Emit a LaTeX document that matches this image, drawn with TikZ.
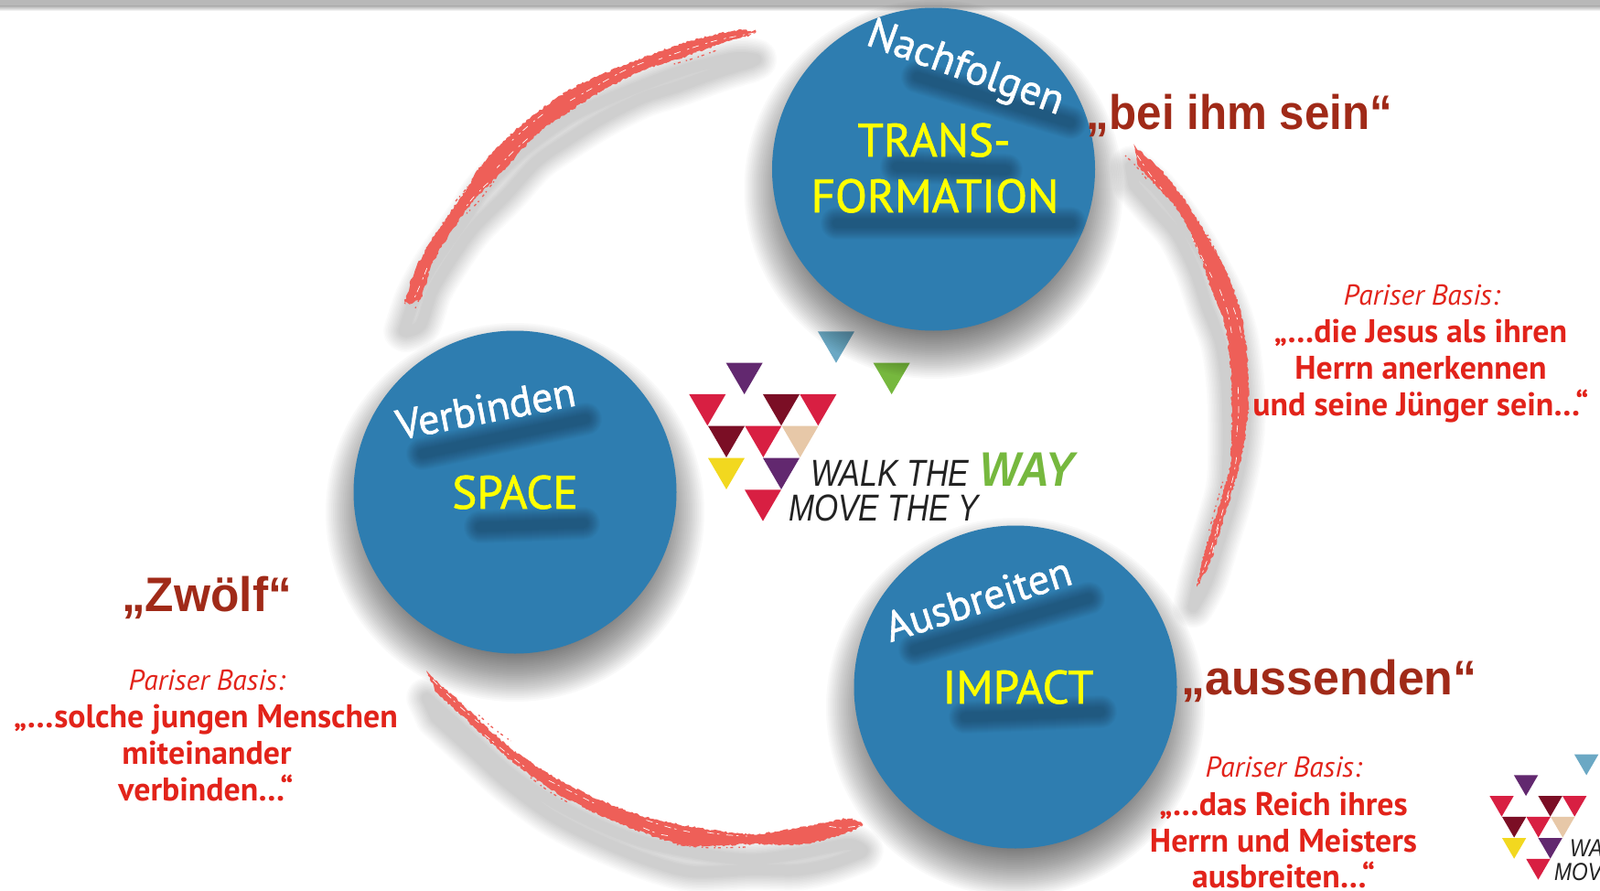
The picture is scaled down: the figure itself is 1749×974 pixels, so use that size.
\documentclass[tikz,border=0pt]{standalone}
\usepackage{fontspec}
\usepackage{graphicx}
\usetikzlibrary{decorations.pathmorphing}
\setmainfont{PT Sans}
\newfontfamily\arialfont{Liberation Sans}
\newfontfamily\semifont[FakeBold=1.3]{PT Sans}
\definecolor{discblue}{HTML}{2E7DB0}
\definecolor{brush}{HTML}{EE5F58}
\definecolor{darkred}{HTML}{A02A18}
\definecolor{textred}{HTML}{E2231A}
\definecolor{wyellow}{HTML}{FFFF00}
\definecolor{lblue}{HTML}{6BA8C4}
\definecolor{lpurple}{HTML}{62286F}
\definecolor{lgreen}{HTML}{76B83E}
\definecolor{lred}{HTML}{D81F42}
\definecolor{ldark}{HTML}{7B0E25}
\definecolor{lbeige}{HTML}{E7C8A8}
\definecolor{lyellow}{HTML}{F2D81F}
\definecolor{ltext}{HTML}{222222}
\newcommand{\sx}[2]{\scalebox{#1}[1]{#2}}
\newcommand{\ltri}[3]{\fill[#3] (#1,#2) -- ++(120,0) -- ++(-60,103) -- cycle;}
\newcommand{\discshadow}[2]{\foreach \rr in {147,149,...,207}{\fill[black,opacity=.024] (#1,#2+22) circle[radius=\rr];}}
\newcommand{\softline}[2]{\foreach \ww in {10,12,...,36}{\draw[black,opacity=.018,line width=\ww pt,line cap=round] #1 -- #2;}}
\newcommand{\softshape}[1]{\foreach \ww in {12,15,...,45}{\draw[black,opacity=.015,line width=\ww pt,line join=round] #1;}}
\def\brushA{plot[smooth] coordinates {(1220,75)(1150,70)(1000,105)(860,155)(700,220)(600,270)(480,355)(400,425)(320,510)(270,590)(200,690)(150,765)(100,860)(65,965)} -- plot[smooth] coordinates {(70,968)(120,945)(160,830)(240,700)(300,620)(400,520)(500,410)(600,340)(720,265)(850,200)(960,165)(1100,115)(1200,85)} -- cycle}
\def\brushB{plot[smooth] coordinates {(120,60)(200,130)(280,230)(350,340)(430,490)(470,610)(490,750)(495,900)(480,1030)(450,1160)(410,1290)(370,1420)(325,1505)} -- plot[smooth] coordinates {(340,1430)(365,1340)(410,1200)(435,1100)(440,950)(435,780)(415,640)(370,520)(330,400)(270,280)(200,200)(130,120)} -- cycle}
\def\brushC{plot[smooth] coordinates {(80,75)(180,165)(350,320)(500,420)(650,495)(800,550)(1000,590)(1150,605)(1300,585)(1460,555)(1510,575)} -- plot[smooth] coordinates {(1505,582)(1400,620)(1290,640)(1150,638)(950,645)(800,605)(620,530)(480,455)(340,350)(220,240)(110,140)} -- cycle}
\tikzset{
  zoomA/.style={shift={(420,10)},x=.3333pt,y=-.3333pt},
  zoomB/.style={shift={(1200,140)},x=.3333pt,y=-.3333pt},
  zoomC/.style={shift={(440,710)},x=.3333pt,y=-.3333pt},
  disc/.style={circle,fill=discblue,minimum size=353pt,inner sep=0pt},
  txt/.style={inner sep=0pt,anchor=base},
  verb/.style={txt,text=white,font=\semifont\fontsize{46}{52}\selectfont},
  core/.style={txt,text=wyellow,font=\semifont\fontsize{51}{58}\selectfont},
  saying/.style={txt,text=darkred,font=\arialfont\bfseries\fontsize{53}{60}\selectfont},
  basis/.style={txt,text=textred,font=\itshape\fontsize{31.5}{38}\selectfont},
  quoted/.style={txt,text=textred,font=\bfseries\fontsize{35.8}{40}\selectfont},
  rough/.style={decorate,decoration={random steps,segment length=2.2pt,amplitude=1.1pt}},
  gap/.style={white,line width=.7pt,line cap=round,dash pattern=on 7pt off 4pt on 2pt off 8pt},
  fleck/.style={brush,line width=1.3pt,dash pattern=on 1.5pt off 3pt on 3pt off 6pt},
  logoW/.style={txt,text=ltext,font=\arialfont\itshape\fontsize{41}{46}\selectfont},
  logoY/.style={txt,text=lgreen,font=\arialfont\bfseries\itshape\fontsize{53}{60}\selectfont},
  logoS/.style={txt,text=ltext,font=\arialfont\itshape\fontsize{27}{30}\selectfont},
}
\begin{document}
\begin{tikzpicture}[x=1pt,y=-1pt]
\useasboundingbox (0,0) rectangle (1749,974);
\fill[white] (0,0) rectangle (1749,974);
% top bar
\fill[black!28] (0,0) rectangle (1749,7);
\shade[top color=black!28,bottom color=white] (0,7) rectangle (1749,12);

% logo triangles
\begin{scope}[shift={(720,340)},x=.3333pt,y=-.3333pt]
\ltri{522}{67}{lblue}
\ltri{221}{170}{lpurple}
\ltri{704}{170}{lgreen}
\ltri{100}{273}{lred}
\ltri{342}{273}{ldark}
\ltri{463}{273}{lred}
\ltri{162}{377}{ldark}
\ltri{283}{377}{lred}
\ltri{404}{377}{lbeige}
\ltri{162}{482}{lyellow}
\ltri{342}{482}{lpurple}
\ltri{282}{586}{lred}
\end{scope}
\begin{scope}[shift={(1606.4,810)},x=.2195pt,y=-.22pt]
\ltri{522}{67}{lblue}
\ltri{221}{170}{lpurple}
\ltri{100}{273}{lred}
\ltri{342}{273}{ldark}
\ltri{463}{273}{lred}
\ltri{162}{377}{ldark}
\ltri{283}{377}{lred}
\ltri{404}{377}{lbeige}
\ltri{162}{482}{lyellow}
\ltri{342}{482}{lpurple}
\ltri{282}{586}{lred}
\end{scope}
\node[logoW,anchor=base west] (walk) at (886,531) {\sx{.83}{WALK THE}};
\node[logoW,anchor=base west] (move) at (862,569) {\sx{.82}{MOVE THE Y}};
\node[logoY,anchor=base west] (way) at (1071,531) {\sx{.89}{WAY}};
\node[logoS,anchor=base west] (walks) at (1716,936) {\sx{.84}{WA}};
\begin{scope}
\clip (0,0) rectangle (1749,974);
\node[logoS,anchor=base west] (moves) at (1699,962) {\sx{.84}{MOV}};
\end{scope}

% drop shadows
\discshadow{1020.5}{185}
\discshadow{563}{538}
\discshadow{1110}{751}
\begin{scope}[zoomA,yshift=-30pt]\softshape{\brushA}\end{scope}
\begin{scope}[zoomB,yshift=-22pt,xshift=-4pt]\softshape{\brushB}\end{scope}
\begin{scope}[zoomC,yshift=-28pt]\softshape{\brushC}\end{scope}

% brush strokes
\begin{scope}[zoomA]
\fill[brush,rough] \brushA;
\draw[gap] plot[smooth] coordinates {(1215,78)(1100,100)(1000,130)(900,165)};
\draw[gap] plot[smooth] coordinates {(850,175)(780,205)(690,255)(610,300)};
\draw[gap] plot[smooth] coordinates {(520,345)(470,385)(420,430)};
\draw[gap] plot[smooth] coordinates {(470,425)(420,470)(370,520)};
\draw[gap] plot[smooth] coordinates {(340,570)(290,620)(260,660)};
\draw[gap] plot[smooth] coordinates {(140,850)(120,900)(100,945)};
\draw[fleck] plot[smooth] coordinates {(300,550)(260,600)(225,640)};
\draw[fleck] plot[smooth] coordinates {(360,565)(310,630)(270,670)};
\draw[fleck] plot[smooth] coordinates {(950,180)(1020,160)(1090,135)};
\draw[fleck] plot[smooth] coordinates {(130,900)(115,950)(100,985)};
\end{scope}
\begin{scope}[zoomB]
\fill[brush,rough] \brushB;
\draw[gap] plot[smooth] coordinates {(130,90)(170,150)(210,200)};
\draw[gap] plot[smooth] coordinates {(310,360)(350,440)(375,490)};
\draw[gap] plot[smooth] coordinates {(400,530)(425,600)(440,680)};
\draw[gap] plot[smooth] coordinates {(445,590)(465,650)(475,710)};
\draw[gap] plot[smooth] coordinates {(460,850)(462,930)(455,1010)};
\draw[gap] plot[smooth] coordinates {(455,1080)(445,1140)(425,1220)};
\draw[gap] plot[smooth] coordinates {(430,1190)(400,1290)(375,1400)};
\draw[gap] plot[smooth] coordinates {(395,1300)(365,1400)(335,1480)};
\draw[fleck] plot[smooth] coordinates {(90,90)(130,130)(170,180)};
\draw[fleck] plot[smooth] coordinates {(315,370)(345,440)(375,500)};
\draw[fleck] plot[smooth] coordinates {(360,350)(400,430)(450,550)};
\draw[fleck] plot[smooth] coordinates {(410,1160)(390,1230)(365,1320)};
\end{scope}
\begin{scope}[zoomC]
\fill[brush,rough] \brushC;
\draw[gap] plot[smooth] coordinates {(100,100)(180,180)(250,240)};
\draw[gap] plot[smooth] coordinates {(270,280)(330,330)(400,385)};
\draw[gap] plot[smooth] coordinates {(480,430)(560,470)(640,510)};
\draw[gap] plot[smooth] coordinates {(790,585)(840,605)(880,612)};
\draw[gap] plot[smooth] coordinates {(800,560)(880,585)(950,600)};
\draw[gap] plot[smooth] coordinates {(1000,600)(1060,608)(1130,612)};
\draw[gap] plot[smooth] coordinates {(1400,580)(1440,585)(1500,578)};
\draw[fleck] plot[smooth] coordinates {(250,215)(300,260)(355,300)};
\draw[fleck] plot[smooth] coordinates {(420,420)(480,465)(540,500)};
\draw[fleck] plot[smooth] coordinates {(900,640)(1000,650)(1130,648)};
\end{scope}

% discs
\node[disc] (transformation) at (1020.5,185) {};
\node[disc] (space) at (563,538) {};
\node[disc] (impact) at (1110,751) {};

% soft shadows of the words
\softline{(1003,84)}{(1170,134)}
\softline{(980,182)}{(1100,186)}
\softline{(915,244)}{(1170,244)}
\softline{(462,496)}{(640,458)}
\softline{(525,576)}{(638,572)}
\softline{(1000,710)}{(1190,654)}
\softline{(1055,784)}{(1203,778)}

% words on discs
\node[verb,rotate=-20] (nach) at (1051,87) {Nachfolgen};
\node[verb,rotate=11] (verb) at (534,462) {Verbinden};
\node[verb,rotate=17.7] (ausb) at (1074,670) {Ausbreiten};
\node[core] (trans) at (1021,171) {TRANS-};
\node[core] (form) at (1022,232) {FORMATION};
\node[core] (spacew) at (563,556) {SPACE};
\node[core] (impactw) at (1113,769) {IMPACT};

% dark red sayings
\node[saying] (s1) at (1355,141) {\sx{.93}{„bei ihm sein“}};
\node[saying] (s2) at (226,668) {\sx{.97}{„Zwölf“}};
\node[saying] (s3) at (1453,759) {\sx{.98}{„aussenden“}};

% Pariser Basis right
\node[basis] (r0) at (1554,333) {Pariser Basis:};
\node[quoted] (r1) at (1553,374) {„…die Jesus als ihren};
\node[quoted] (r2) at (1553,414) {Herrn anerkennen};
\node[quoted] (r3) at (1553,454) {und seine Jünger sein…“};
% left
\node[basis] (l0) at (226,754) {Pariser Basis:};
\node[quoted] (l1) at (225,795) {„…solche jungen Menschen};
\node[quoted] (l2) at (226,835) {miteinander};
\node[quoted] (l3) at (225,875) {verbinden…“};
% bottom
\node[basis] (b0) at (1403,849) {Pariser Basis:};
\node[quoted] (b1) at (1403,891) {„…das Reich ihres};
\node[quoted] (b2) at (1403,931) {Herrn und Meisters};
\node[quoted] (b3) at (1403,970) {ausbreiten…“};
\end{tikzpicture}
\end{document}
